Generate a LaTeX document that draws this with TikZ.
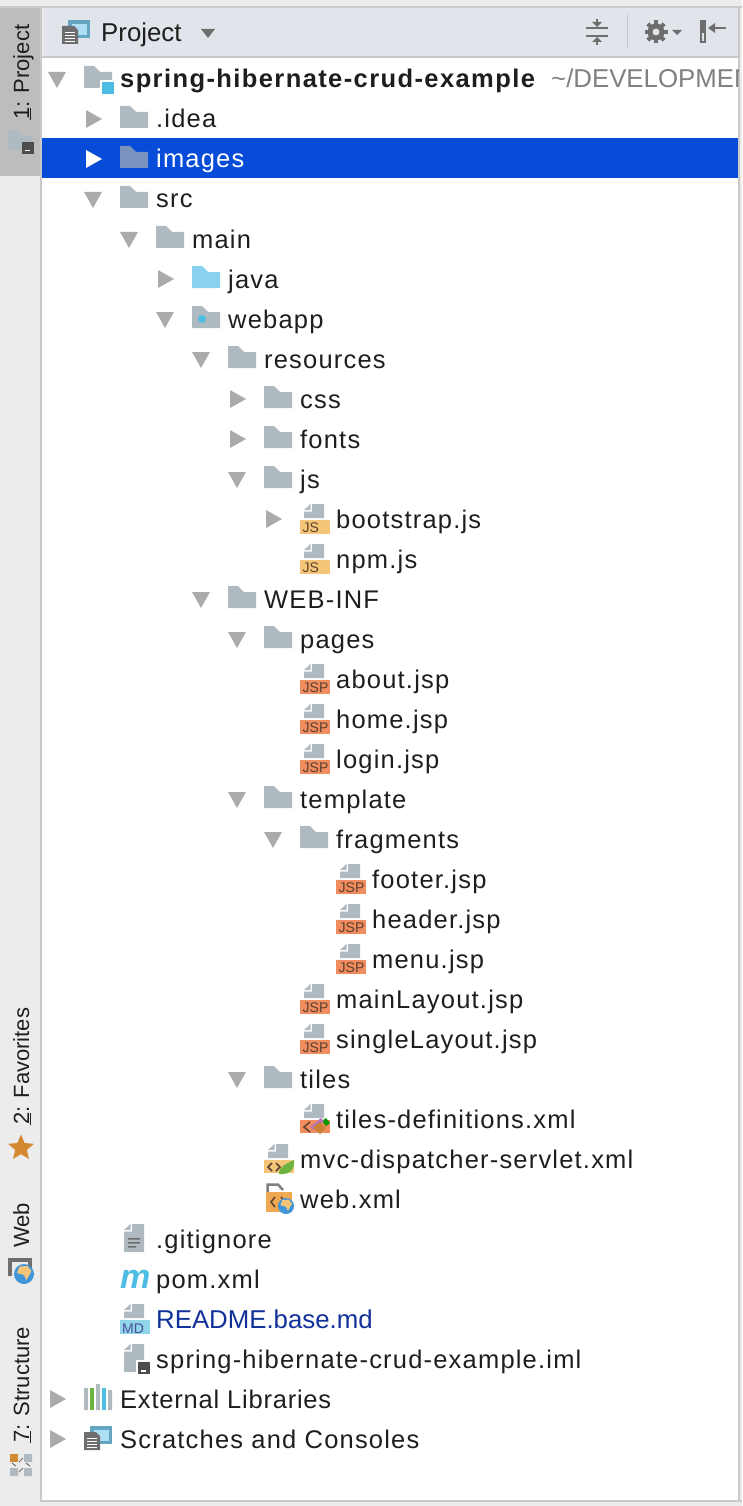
\documentclass[tikz,border=0pt]{standalone}
\usepackage{fontspec}
\setmainfont{Liberation Sans}
\newfontfamily\treefamily[LetterSpace=4.7, BoldFeatures={LetterSpace=5.5}]{Liberation Sans}
\newfontfamily\narrowfamily[LetterSpace=3.1]{Liberation Sans}
\definecolor{panelgrey}{HTML}{ECECEC}
\definecolor{linegrey}{HTML}{C9C9C9}
\definecolor{tabgrey}{HTML}{BDBDBD}
\definecolor{headerblue}{HTML}{E1E4EB}
\definecolor{selblue}{HTML}{074CD8}
\definecolor{foldergrey}{HTML}{AEB9C0}
\definecolor{folderdim}{HTML}{7A93BE}
\definecolor{javablue}{HTML}{88D2EE}
\definecolor{cyandot}{HTML}{4DBDE3}
\definecolor{arrowgrey}{HTML}{ABABAB}
\definecolor{icongrey}{HTML}{6E6E6E}
\definecolor{labelblack}{HTML}{1E1E1E}
\definecolor{jsyellow}{HTML}{F4C577}
\definecolor{jsporange}{HTML}{F08C5E}
\definecolor{mdblue}{HTML}{8FD6EA}
\definecolor{webamber}{HTML}{F0A852}
\definecolor{tagtext}{HTML}{5A4030}
\definecolor{starorange}{HTML}{D2892F}
\definecolor{readmeblue}{HTML}{12309A}
\definecolor{leafgreen}{HTML}{6DB33F}
\definecolor{globeblue}{HTML}{3F95D8}
\usetikzlibrary{shapes.geometric, positioning}
\newcommand{\rowfont}{\treefamily\fontsize{25.5}{30}\selectfont}
\newcommand{\plainfont}{\fontsize{25.8}{30}\selectfont}
\newcommand{\sidefont}{\fontsize{22}{26}\selectfont}
\begin{document}
\begin{tikzpicture}[
    x=1pt, y=-1pt,
    % Text styles
    treelabel/.style={anchor=base west, inner sep=0pt, font=\rowfont, text=labelblack},
    sidelabel/.style={anchor=base west, inner sep=0pt, rotate=90, font=\sidefont, text=labelblack},
    taglabel/.style={inner sep=0pt, font=\fontsize{14}{14}\selectfont, text=tagtext},
    % Tree arrows
    pics/opened/.style={code={\fill[arrowgrey] (0,-7) -- (18,-7) -- (9,9) -- cycle;}},
    pics/closed/.style={code={\fill[#1] (2,-9) -- (18,0) -- (2,9) -- cycle;}},
    pics/closed/.default=arrowgrey,
    % Folder and file icons
    pics/folder/.style={code={\fill[#1] (0,-13) -- (10,-13) -- (16,-7) -- (28,-7) -- (28,9) -- (0,9) -- cycle;}},
    pics/folder/.default=foldergrey,
    pics/page/.style={code={
        \fill[foldergrey] (4,-9) -- (10.5,-15) -- (10.5,-9) -- cycle;
        \fill[foldergrey] (12,-15) -- (24,-15) -- (24,-1) -- (4,-1) -- (4,-7.5) -- (12,-7.5) -- cycle;}},
    pics/tallpage/.style={code={
        \fill[foldergrey] (4,-9) -- (10.5,-15) -- (10.5,-9) -- cycle;
        \fill[foldergrey] (12,-15) -- (24,-15) -- (24,13) -- (4,13) -- (4,-7.5) -- (12,-7.5) -- cycle;}},
    pics/tagfile/.style n args={2}{code={
        \pic at (0,0) {page};
        \fill[#1] (0,1) rectangle (30,15);
        \node[taglabel, anchor=base west] (tag) at (2.5,13.5) {#2};}},
    pics/smallbadge/.style={code={
        \fill[icongrey!70!black] (0,0) rectangle (12,12);
        \fill[white] (3,8) rectangle (8,9.5);}},
    pics/globe/.style={code={
        \fill[globeblue] (0,0) circle (#1);
        \fill[jsyellow] (-0.45*#1,-0.75*#1) -- (0.35*#1,-0.8*#1) -- (0.75*#1,-0.3*#1) -- (0.25*#1,0.6*#1) -- (0,0.1*#1) -- (-0.7*#1,-0.1*#1) -- cycle;}},
    pics/windows/.style={code={
        \fill[#1] (6,0) rectangle (28,18);
        \fill[javablue!70!white] (10,4) rectangle (25,15);
        \fill[icongrey] (0,6) -- (12,6) -- (16,10) -- (16,24) -- (0,24) -- cycle;
        \foreach \liney in {12,15,18,21} \fill[white] (3,\liney) rectangle (13,\liney+1.2);}},
    pics/windows/.default={cyan!50!gray}
]

\useasboundingbox (0,0) rectangle (742,1506);

% Panels
\fill[panelgrey] (0,0) rectangle (742,1506);
\fill[white] (42,58) rectangle (738,1500);
\fill[linegrey] (0,6) rectangle (742,8);
\fill[linegrey] (40,8) rectangle (42,1502);
\fill[linegrey] (42,1500) rectangle (742,1502);
\fill[linegrey] (738,8) rectangle (740,1502);
\fill[tabgrey] (0,8) rectangle (40,176);
\fill[headerblue] (44,8) rectangle (738,56);
\fill[linegrey] (42,56) rectangle (738,58);
\fill[selblue] (42,138) rectangle (738,178);

% Header
\pic at (62,20) {windows};
\node[treelabel, font=\plainfont] (project) at (101,42) {Project};
\fill[icongrey] (201,29) -- (215,29) -- (208,38) -- cycle;
% collapse icon
\draw[icongrey, line width=1.5pt] (586,28) -- (608,28) (586,36) -- (608,36);
\draw[icongrey, line width=1.5pt] (597,19) -- (597,24) (597,40) -- (597,45);
\fill[icongrey] (592,22) -- (602,22) -- (597,27) -- cycle;
\fill[icongrey] (592,42) -- (602,42) -- (597,37) -- cycle;
\fill[linegrey] (626.5,14) rectangle (628,48);
% gear icon
\foreach \toothangle in {0,45,...,315}
    \draw[icongrey, line width=4pt] (656,32) -- ++(\toothangle:11.5);
\fill[icongrey] (656,32) circle (8.5);
\fill[headerblue] (656,32) circle (3.5);
\fill[icongrey] (672,30) -- (682,30) -- (677,35) -- cycle;
% hide icon
\fill[icongrey] (700,20) rectangle (706,43);
\fill[headerblue] (702,33) rectangle (704,41);
\draw[icongrey, line width=1.5pt] (710,28) -- (726,28);
\fill[icongrey] (708,28) -- (715,23) -- (715,33) -- cycle;

% Side bar
\node[sidelabel] (tabproject) at (29,120) {\underline{1}: Project};
\fill[foldergrey] (8,130) -- (17,130) -- (22,136) -- (32,136) -- (32,150) -- (8,150) -- cycle;
\pic at (22,142) {smallbadge};
\node[sidelabel] (tabfavorites) at (29,1125) {\underline{2}: Favorites};
\node[star, star points=5, star point ratio=2.2, fill=starorange, inner sep=0pt, minimum size=27pt] (favstar) at (21,1148) {};
\node[sidelabel] (tabweb) at (29,1248) {Web};
\draw[icongrey, line width=3.5pt] (10,1276) -- (10,1260) -- (30,1260) -- (30,1268);
\pic at (24,1274) {globe=10};
\node[sidelabel] (tabstructure) at (29,1443) {\underline{7}: Structure};
\fill[starorange] (10,1454) rectangle (18,1462);
\fill[foldergrey] (24,1454) rectangle (32,1462) (10,1468) rectangle (18,1476) (24,1468) rectangle (32,1476);
\draw[icongrey, line width=1pt] (19,1462) -- (23,1458) (19,1472) -- (23,1468);
\draw[icongrey, line width=1pt] (12,1463) -- (16,1466) (26,1463) -- (30,1466);

% Project root
\pic at (48,79) {opened};
\pic at (84,79) {folder};
\fill[white] (100,80) rectangle (115,96);
\fill[cyandot] (102,82) rectangle (114,94);
\node[treelabel, font=\rowfont\bfseries] (root) at (120,88) {spring-hibernate-crud-example};
\begin{scope}
    \clip (540,60) rectangle (738,110);
    \node[treelabel, font=\plainfont, text=gray] (rootpath) at (551,88) {\textasciitilde/DEVELOPMEN};
\end{scope}

% First level
\pic at (84,119) {closed};
\pic at (120,119) {folder};
\node[treelabel] (idea) at (156,128) {.idea};
\pic at (84,159) {closed=white};
\pic at (120,159) {folder=folderdim};
\node[treelabel, text=white] (images) at (156,168) {images};
\pic at (84,199) {opened};
\pic at (120,199) {folder};
\node[treelabel] (src) at (156,208) {src};

% main
\pic at (120,239) {opened};
\pic at (156,239) {folder};
\node[treelabel] (main) at (192,248) {main};
\pic at (156,279) {closed};
\pic at (192,279) {folder=javablue};
\node[treelabel] (java) at (228,288) {java};
\pic at (156,319) {opened};
\pic at (192,319) {folder};
\fill[cyandot] (202,319) circle (4);
\node[treelabel] (webapp) at (228,328) {webapp};

% resources
\pic at (192,359) {opened};
\pic at (228,359) {folder};
\node[treelabel] (resources) at (264,368) {resources};
\pic at (228,399) {closed};
\pic at (264,399) {folder};
\node[treelabel] (css) at (300,408) {css};
\pic at (228,439) {closed};
\pic at (264,439) {folder};
\node[treelabel] (fonts) at (300,448) {fonts};
\pic at (228,479) {opened};
\pic at (264,479) {folder};
\node[treelabel] (js) at (300,488) {js};
\pic at (264,519) {closed};
\pic at (300,519) {tagfile={jsyellow}{JS}};
\node[treelabel] (bootstrap) at (336,528) {bootstrap.js};
\pic at (300,559) {tagfile={jsyellow}{JS}};
\node[treelabel] (npm) at (336,568) {npm.js};

% WEB-INF
\pic at (192,599) {opened};
\pic at (228,599) {folder};
\node[treelabel] (webinf) at (264,608) {WEB-INF};
\pic at (228,639) {opened};
\pic at (264,639) {folder};
\node[treelabel] (pages) at (300,648) {pages};
\pic at (300,679) {tagfile={jsporange}{JSP}};
\node[treelabel] (about) at (336,688) {about.jsp};
\pic at (300,719) {tagfile={jsporange}{JSP}};
\node[treelabel] (home) at (336,728) {home.jsp};
\pic at (300,759) {tagfile={jsporange}{JSP}};
\node[treelabel] (login) at (336,768) {login.jsp};
\pic at (228,799) {opened};
\pic at (264,799) {folder};
\node[treelabel] (template) at (300,808) {template};
\pic at (264,839) {opened};
\pic at (300,839) {folder};
\node[treelabel] (fragments) at (336,848) {fragments};
\pic at (336,879) {tagfile={jsporange}{JSP}};
\node[treelabel] (footer) at (372,888) {footer.jsp};
\pic at (336,919) {tagfile={jsporange}{JSP}};
\node[treelabel] (header) at (372,928) {header.jsp};
\pic at (336,959) {tagfile={jsporange}{JSP}};
\node[treelabel] (menu) at (372,968) {menu.jsp};
\pic at (300,999) {tagfile={jsporange}{JSP}};
\node[treelabel] (mainlayout) at (336,1008) {mainLayout.jsp};
\pic at (300,1039) {tagfile={jsporange}{JSP}};
\node[treelabel] (singlelayout) at (336,1048) {singleLayout.jsp};
\pic at (228,1079) {opened};
\pic at (264,1079) {folder};
\node[treelabel] (tiles) at (300,1088) {tiles};

% tiles-definitions.xml
\pic at (300,1119) {page};
\fill[jsporange] (300,1120) rectangle (330,1133);
\draw[tagtext, line width=1.5pt] (310,1122) -- (304,1127) -- (310,1132);
\fill[green!60!black] (322,1121) -- (326,1118) -- (330,1123) -- (326,1126) -- cycle;
\fill[violet!55!white] (310,1127) -- (321,1118) -- (324,1121) -- (314,1130) -- cycle;
\fill[brown!80!orange] (313,1127) -- (320,1122) -- (326,1128) -- (320,1134) -- cycle;
\node[treelabel] (tilesdefs) at (336,1128) {tiles-definitions.xml};

% mvc-dispatcher-servlet.xml
\pic at (264,1159) {page};
\fill[jsyellow] (264,1160) rectangle (294,1173);
\draw[tagtext, line width=1.5pt] (272,1163) -- (268,1167) -- (272,1171) (276,1163) -- (280,1167) -- (276,1171);
\fill[leafgreen] (279,1174) .. controls (279,1166) and (286,1164) .. (294,1160) .. controls (295,1168) and (291,1175) .. (279,1174);
\node[treelabel] (mvc) at (300,1168) {mvc-dispatcher-servlet.xml};

% web.xml
\draw[gray, line width=2.5pt] (267.5,1210) -- (267.5,1184.5) -- (278,1184.5) -- (283,1190);
\fill[webamber] (266,1192) rectangle (292,1212);
\draw[tagtext, line width=1.5pt] (275,1197) -- (271,1202) -- (275,1207) (281,1197) -- (285,1202);
\pic at (286,1206) {globe=8};
\node[treelabel] (webxml) at (300,1208) {web.xml};

% Files in the project root
\pic at (120,1239) {tallpage};
\fill[icongrey] (128,1238) rectangle (140,1239.5) (128,1242) rectangle (140,1243.5) (128,1246) rectangle (136,1247.5);
\node[treelabel] (gitignore) at (156,1248) {.gitignore};
\node[treelabel, text=cyandot, font=\fontsize{34}{34}\selectfont\bfseries\itshape] (pomicon) at (120,1288) {m};
\node[treelabel] (pom) at (156,1288) {pom.xml};
\pic at (120,1319) {page};
\fill[mdblue] (120,1320) rectangle (150,1334);
\node[taglabel, anchor=base west, text=icongrey!70!blue] (mdtag) at (122,1333.5) {MD};
\node[treelabel, font=\plainfont, text=readmeblue] (readme) at (156,1328) {README.base.md};
\pic at (120,1359) {tallpage};
\fill[white] (136,1360) rectangle (150,1374);
\pic at (138,1362) {smallbadge};
\node[treelabel] (iml) at (156,1368) {spring-hibernate-crud-example.iml};

% External libraries
\pic at (48,1399) {closed};
\fill[foldergrey] (84,1388) rectangle (88,1410) (108,1390) rectangle (112,1410) (96,1384) rectangle (100,1410);
\fill[leafgreen] (90,1388) rectangle (94,1410);
\fill[cyandot] (102,1388) rectangle (106,1410);
\node[treelabel, font=\narrowfamily\fontsize{25.5}{30}\selectfont] (external) at (120,1408) {External Libraries};

% Scratches
\pic at (48,1439) {closed};
\pic at (84,1426) {windows};
\node[treelabel] (scratches) at (120,1448) {Scratches and Consoles};

\end{tikzpicture}
\end{document}
